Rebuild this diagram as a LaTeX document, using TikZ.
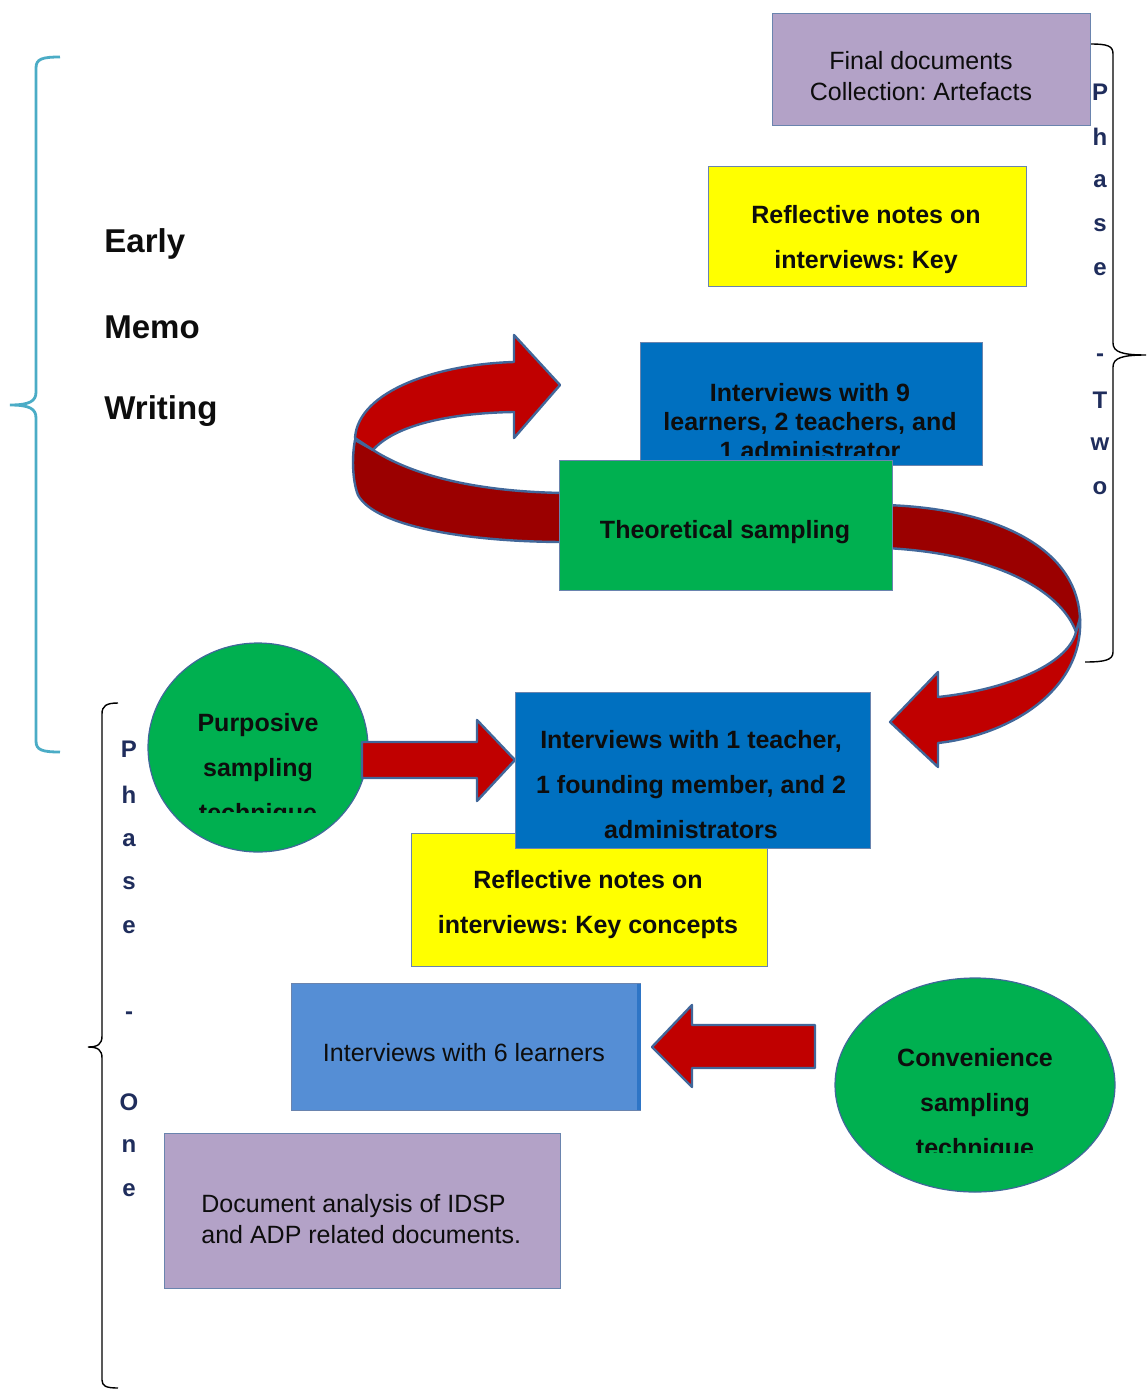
\documentclass[tikz,border=0pt]{standalone}
\usepackage{fontspec}
\setmainfont{Liberation Sans}
\usetikzlibrary{shapes.geometric}
\frenchspacing
\definecolor{purp}{HTML}{B3A2C7}
\definecolor{yel}{HTML}{FFFF00}
\definecolor{blu}{HTML}{0070C0}
\definecolor{grn}{HTML}{00B050}
\definecolor{lblu}{HTML}{558ED5}
\definecolor{lbluedge}{HTML}{2E75C6}
\definecolor{redc}{HTML}{C00000}
\definecolor{darkred}{HTML}{9B0000}
\definecolor{edgec}{HTML}{41679A}
\definecolor{boxedge}{HTML}{6A84AE}
\definecolor{tealc}{HTML}{4BACC6}
\definecolor{navy}{HTML}{1F2D5C}
\definecolor{txtc}{HTML}{0D0D0D}
\begin{document}
\begin{tikzpicture}[x=0.5pt,y=-0.5pt,
  box/.style={draw=boxedge,line width=0.5pt,inner sep=0pt},
  bt/.style={font=\bfseries\fontsize{12.5}{22.5}\selectfont,align=center,inner sep=0pt,text=txtc},
  rt/.style={font=\fontsize{12.5}{15.5}\selectfont,align=center,inner sep=0pt,text=txtc},
  ph/.style={font=\bfseries\fontsize{12}{13}\selectfont,text=navy,inner sep=0pt},
  big/.style={font=\bfseries\fontsize{16.5}{20}\selectfont,anchor=west,inner sep=0pt,text=txtc},
  redarrow/.style={fill=redc,draw=edgec,line width=1.2pt,line join=round},
  darkarrow/.style={fill=darkred,draw=edgec,line width=1.2pt,line join=round},
  bracec/.style={draw=black,line width=0.7pt},
  tealbrace/.style={draw=tealc,line width=1.4pt}]

\useasboundingbox (0,0) rectangle (1146,1391);

% ---------- braces ----------
\draw[tealbrace] (60,57) .. controls (42,57) and (36,59) .. (36,68) -- (36,392)
  .. controls (36,401) and (30,405) .. (10,405)
  .. controls (30,405) and (36,409) .. (36,418) -- (36,741)
  .. controls (36,750) and (42,752) .. (60,752);

\draw[bracec] (1090,44) .. controls (1108,44) and (1113,46) .. (1113,54) -- (1113,343)
  .. controls (1113,352) and (1122,355) .. (1146,355)
  .. controls (1122,355) and (1113,358) .. (1113,367) -- (1113,652)
  .. controls (1113,660) and (1105,662) .. (1085,662);

\draw[bracec] (118,703) .. controls (106,703) and (102,706) .. (102,714) -- (102,1036)
  .. controls (102,1044) and (98,1047) .. (88,1047)
  .. controls (98,1047) and (102,1050) .. (102,1058) -- (102,1380)
  .. controls (102,1386) and (106,1388) .. (118,1388);

\foreach \l/\y [count=\i] in {P/92,h/137,a/181,s/225,e/269,-/358,T/400,w/444,o/488}
  \node[ph] (ptwo\i) at (1100,\y) {\l};
\foreach \l/\y [count=\i] in {P/749,h/795,a/840,s/883,e/927,-/1016,O/1102,n/1146,e/1190}
  \node[ph] (pone\i) at (129,\y) {\l};

\node[big] (early) at (104,244) {Early};
\node[big] (memo) at (104,327) {Memo};
\node[big] (writing) at (104,411) {Writing};

% ---------- top boxes ----------
\node[box,fill=purp,minimum width=159pt,minimum height=56pt] (finB) at (931,70) {};
\node[rt] (fin) at (921,76) {Final documents\\Collection: Artefacts};

\node[box,fill=yel,minimum width=159pt,minimum height=59.5pt] (ref1B) at (867,226.5) {};
\node[bt] (ref1) at (866,240) {Reflective notes on\\interviews: Key};

% ---------- top-left curved arrow ----------
\draw[darkarrow] (355,440) -- (373,450) .. controls (420,480) and (490,492) .. (565,493)
  -- (565,542) .. controls (470,542) and (375,527) .. (358,495)
  .. controls (352,480) and (352,455) .. (355,440) -- cycle;
\draw[redarrow] (514,362) -- (514,335) -- (560,385) -- (514,438) -- (514,412)
  .. controls (450,413) and (395,425) .. (373,450) -- (355,438)
  .. controls (358,390) and (440,364) .. (514,362) -- cycle;

% ---------- interviews with 9 ----------
\node[box,fill=blu,minimum width=171pt,minimum height=61.5pt] (int9B) at (811,403.5) {};
\begin{scope}
  \clip (640,342) rectangle (982,455);
  \node[bt,font=\bfseries\fontsize{12.5}{14.5}\selectfont] (int9) at (810,422) {Interviews with 9\\learners, 2 teachers, and\\1 administrator};
\end{scope}

% ---------- right curved arrow ----------
\draw[darkarrow] (885,505) .. controls (990,508) and (1078,545) .. (1080,620)
  -- (1076,632) .. controls (1060,588) and (990,553) .. (885,548) -- cycle;
\draw[redarrow] (1080,618) .. controls (1084,690) and (1010,735) .. (938,743)
  -- (938,767) -- (890,722) -- (938,672) -- (938,697)
  .. controls (1005,690) and (1068,665) .. (1076,632) -- cycle;

% ---------- theoretical sampling ----------
\node[box,fill=grn,minimum width=166.5pt,minimum height=65pt] (theoB) at (725.5,525) {};
\node[bt] (theo) at (725,532) {Theoretical sampling};

% ---------- purposive ----------
\node[ellipse,draw=edgec,line width=0.6pt,fill=grn,minimum width=110pt,minimum height=104.5pt,inner sep=0pt] (purpB) at (258,747.5) {};
\begin{scope}
  \clip (140,640) rectangle (380,812);
  \node[bt] (purp) at (258,770) {Purposive\\sampling\\technique};
\end{scope}
\draw[redarrow] (362,742) -- (477,742) -- (477,720) -- (515,760) -- (477,801) -- (477,778) -- (362,778) -- cycle;

% ---------- interviews with 1 teacher / reflective notes 2 ----------
\node[box,fill=yel,minimum width=178pt,minimum height=66.5pt] (ref2B) at (589,899.5) {};
\node[box,fill=blu,minimum width=177.5pt,minimum height=78pt] (int1B) at (692.5,770) {};
\node[bt] (int1) at (691,785) {Interviews with 1 teacher,\\1 founding member, and 2\\administrators};
\node[bt] (ref2) at (588,905) {Reflective notes on\\interviews: Key concepts};

% ---------- interviews with 6 learners ----------
\node[box,fill=lblu,minimum width=174.5pt,minimum height=63.5pt] (int6B) at (465.5,1046.5) {};
\draw[lbluedge,line width=2pt] (639,984) -- (639,1110);
\node[rt] (int6) at (464,1053) {Interviews with 6 learners};

\draw[redarrow] (815,1025) -- (692,1025) -- (692,1005) -- (652,1047) -- (692,1087) -- (692,1068) -- (815,1068) -- cycle;

% ---------- convenience ----------
\node[ellipse,draw=edgec,line width=0.6pt,fill=grn,minimum width=140pt,minimum height=107pt,inner sep=0pt] (convB) at (975,1085) {};
\begin{scope}
  \clip (830,975) rectangle (1120,1152);
  \node[bt] (conv) at (975,1105) {Convenience\\sampling\\technique};
\end{scope}

% ---------- document analysis ----------
\node[box,fill=purp,minimum width=198pt,minimum height=77.5pt] (docB) at (362,1210.5) {};
\node[rt,align=left,anchor=west] (doc) at (201,1219) {Document analysis of IDSP\\and ADP related documents.};

\end{tikzpicture}
\end{document}
